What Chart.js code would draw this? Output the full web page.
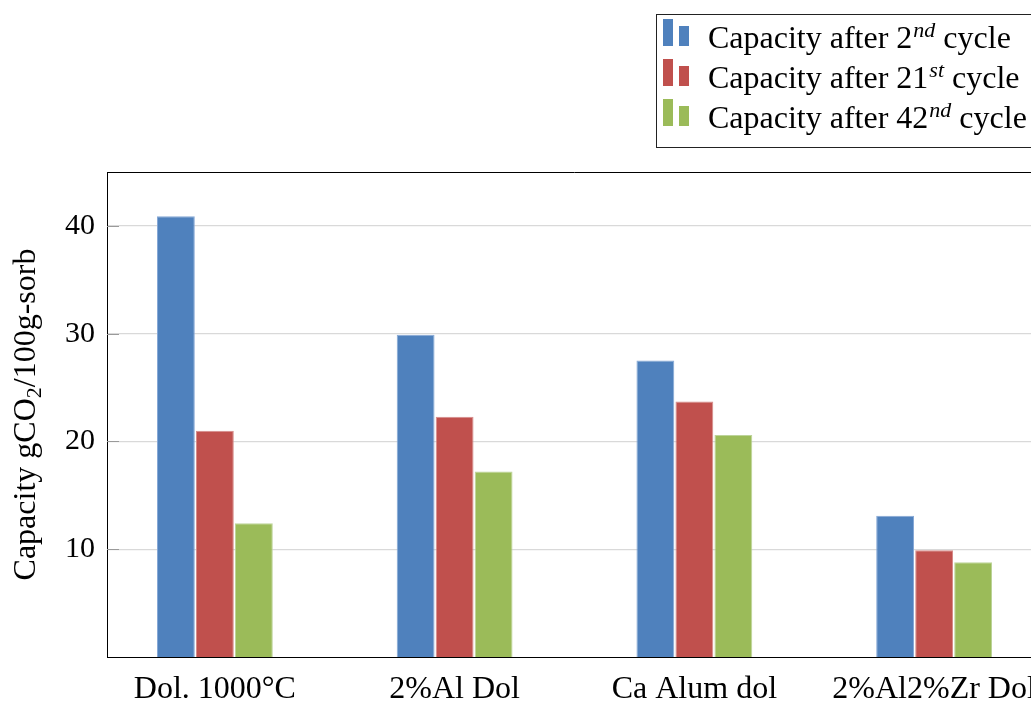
<!DOCTYPE html>
<html>
<head>
<meta charset="utf-8">
<title>Sorbent capacity by cycle</title>
<script src="https://cdn.jsdelivr.net/npm/chart.js@4/dist/chart.umd.min.js"></script>
<style>
  html, body { margin: 0; padding: 0; background: #ffffff; overflow: hidden; }
  #wrap { width: 1031px; height: 704px; overflow: hidden; }
  canvas { display: block; }
</style>
</head>
<body>
<div id="wrap"><canvas id="c" width="1050" height="704"></canvas></div>
<script>
// Sorbent materials along the x axis
const categories = ['Dol. 1000°C', '2%Al Dol', 'Ca Alum dol', '2%Al2%Zr Dol'];

// CO2 capacity (g CO2 / 100 g sorbent) after each cycle count
const cycle2  = [40.9, 29.9, 27.5, 13.1];
const cycle21 = [21.0, 22.3, 23.7, 9.9];
const cycle42 = [12.4, 17.2, 20.6, 8.8];

// Legend labels: cycle number and its ordinal suffix (superscript)
const seriesCycle  = ['2', '21', '42'];
const seriesSuffix = ['nd', 'st', 'nd'];

const yTicks = [10, 20, 30, 40];
const yMax = 45;

const colors  = ['#4f81bd', '#c0504d', '#9bbb59'];
const borders = ['#86a8d6', '#d68c8a', '#bdd49a'];

const FONT = '"Liberation Serif", "Times New Roman", serif';
const FS = 32;

const seriesValues = [cycle2, cycle21, cycle42];

const datasets = seriesValues.map((vals, k) => ({
  label: 'Capacity after ' + seriesCycle[k] + seriesSuffix[k] + ' cycle',
  data: vals.map((v, i) => ({ x: i, y: v })),
  backgroundColor: colors[k],
  borderColor: borders[k],
  borderWidth: 1,
  categoryPercentage: 0.488,
  barPercentage: 0.97
}));

// Box frame, inner y tick marks, rotated y title and the legend box
const decorations = {
  id: 'decorations',
  afterDraw(chart) {
    const ctx = chart.ctx;
    const a = chart.chartArea;
    const y = chart.scales.y;
    ctx.save();

    // top frame line
    ctx.strokeStyle = '#000';
    ctx.lineWidth = 1;
    ctx.beginPath();
    ctx.moveTo(a.left, a.top + 0.5);
    ctx.lineTo(a.right, a.top + 0.5);
    ctx.stroke();

    // inward tick marks on the left axis
    ctx.strokeStyle = '#9a9a9a';
    yTicks.forEach(t => {
      const py = Math.round(y.getPixelForValue(t)) + 0.5;
      ctx.beginPath();
      ctx.moveTo(a.left, py);
      ctx.lineTo(a.left + 12, py);
      ctx.stroke();
    });

    // y axis title with subscript
    ctx.fillStyle = '#000';
    ctx.translate(35, (a.top + a.bottom) / 2);
    ctx.rotate(-Math.PI / 2);
    const big = FS + 'px ' + FONT;
    const small = Math.round(FS * 0.7) + 'px ' + FONT;
    const p1 = 'Capacity gCO', p2 = '2', p3 = '/100g-sorb';
    ctx.font = big;
    const w1 = ctx.measureText(p1).width, w3 = ctx.measureText(p3).width;
    ctx.font = small;
    const w2 = ctx.measureText(p2).width;
    const x0 = -(w1 + w2 + w3) / 2;
    ctx.textBaseline = 'alphabetic';
    ctx.textAlign = 'left';
    ctx.font = big;
    ctx.fillText(p1, x0, 0);
    ctx.font = small;
    ctx.fillText(p2, x0 + w1, 6);
    ctx.font = big;
    ctx.fillText(p3, x0 + w1 + w2, 0);
    ctx.restore();

    // legend
    ctx.save();
    ctx.strokeStyle = '#222';
    ctx.lineWidth = 1;
    ctx.strokeRect(656.5, 14.5, 400, 133);
    ctx.textBaseline = 'alphabetic';
    ctx.textAlign = 'left';
    datasets.forEach((ds, k) => {
      const base = 48 + k * 40;
      ctx.fillStyle = colors[k];
      ctx.fillRect(663, base - 29, 10, 27);
      ctx.fillRect(679, base - 22, 10, 20);
      ctx.fillStyle = '#000';
      let x = 708;
      ctx.font = big;
      const pre = 'Capacity after ' + seriesCycle[k];
      ctx.fillText(pre, x, base);
      x += ctx.measureText(pre).width + 1;
      ctx.font = 'italic ' + Math.round(FS * 0.7) + 'px ' + FONT;
      ctx.fillText(seriesSuffix[k], x, base - 11);
      x += ctx.measureText(seriesSuffix[k]).width;
      ctx.font = big;
      ctx.fillText(' cycle', x, base);
    });
    ctx.restore();
  }
};

new Chart(document.getElementById('c'), {
  type: 'bar',
  data: { datasets },
  options: {
    responsive: false,
    animation: false,
    devicePixelRatio: 1,
    layout: { padding: { top: 172, left: 0, right: 8, bottom: 0 } },
    plugins: { legend: { display: false }, tooltip: { enabled: false } },
    scales: {
      x: {
        type: 'linear',
        offset: false,
        min: -0.45,
        max: 3.45,
        afterBuildTicks: s => { s.ticks = categories.map((_, i) => ({ value: i })); },
        afterFit: s => { s.height = 47; },
        grid: { display: false, tickLength: 0, offset: false },
        border: { display: true, color: '#000', width: 1 },
        ticks: {
          autoSkip: false,
          maxRotation: 0,
          padding: 13,
          color: '#000',
          font: { family: FONT, size: FS },
          callback: v => categories[v]
        }
      },
      y: {
        min: 0,
        max: yMax,
        afterBuildTicks: s => { s.ticks = yTicks.map(v => ({ value: v })); },
        afterFit: s => { s.width = 107; },
        grid: { color: '#d9d9d9', lineWidth: 1.3, tickLength: 0, drawTicks: false },
        border: { display: true, color: '#000', width: 1 },
        ticks: {
          padding: 12,
          color: '#000',
          font: { family: FONT, size: 30 },
          callback: v => String(v)
        }
      }
    }
  },
  plugins: [decorations]
});
</script>
</body>
</html>
